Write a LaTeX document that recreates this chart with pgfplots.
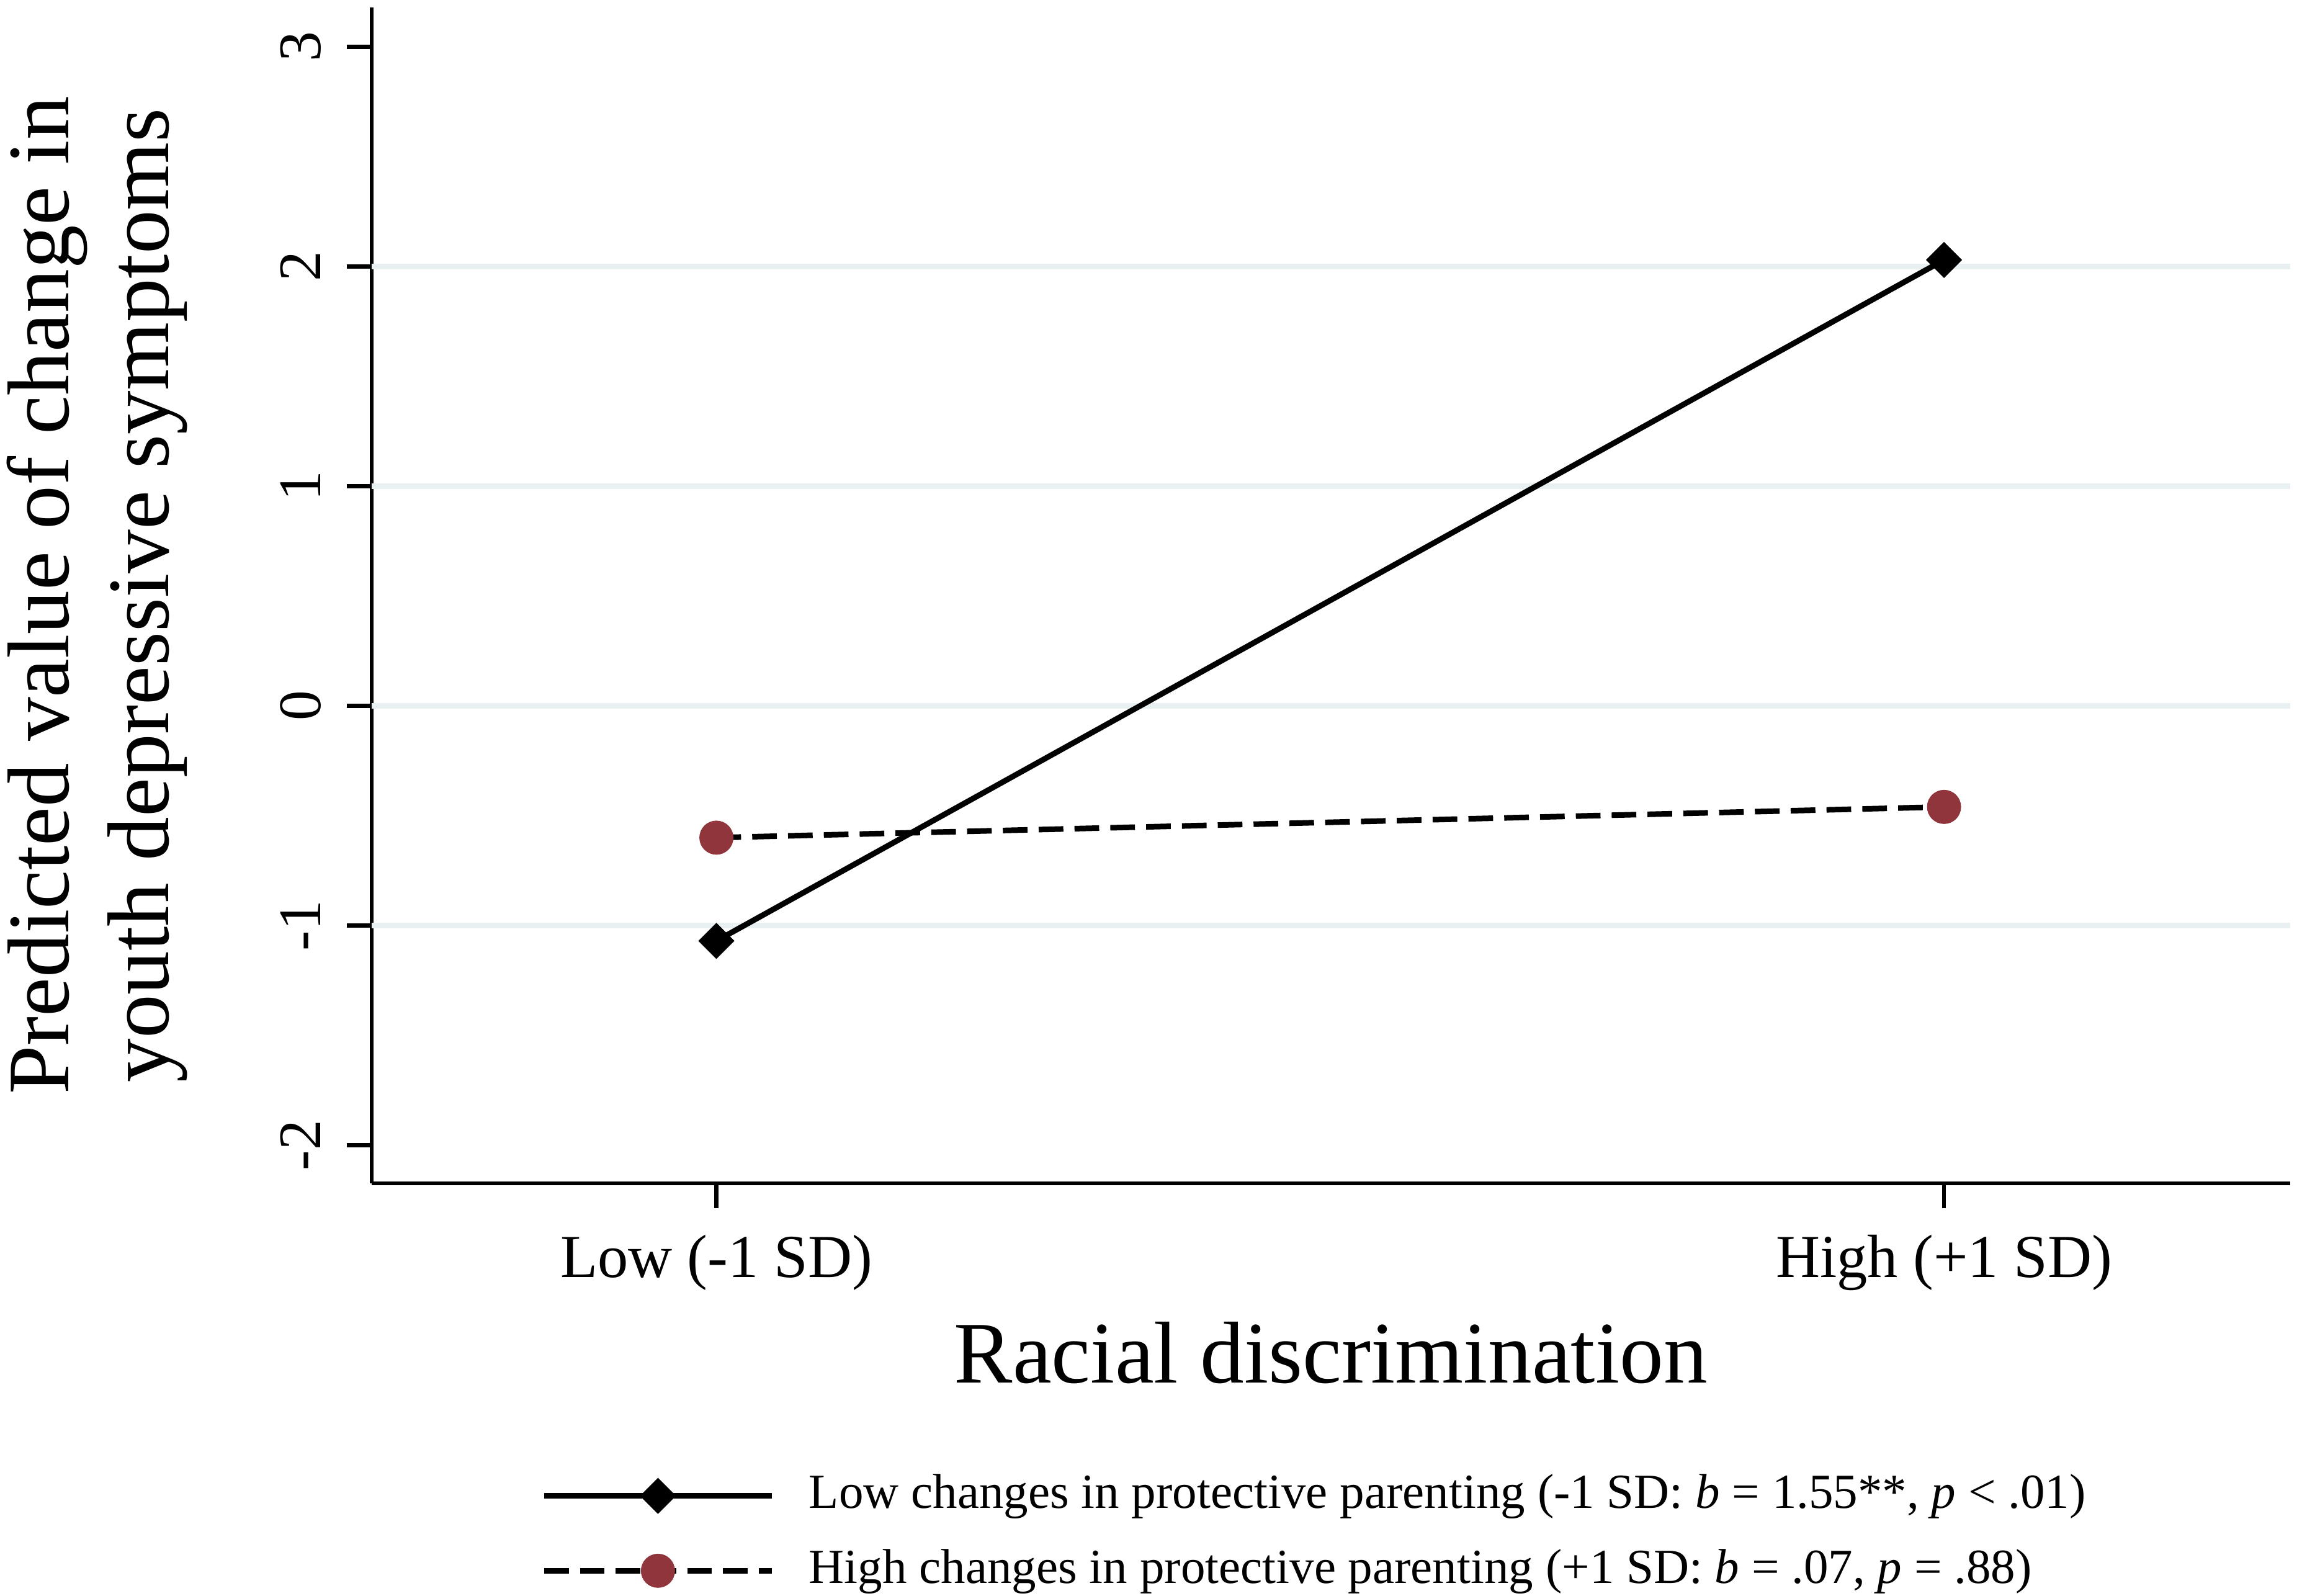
\documentclass[border=0pt]{standalone}
\usepackage{pgfplots}
\pgfplotsset{compat=1.18}
\usepackage{fontspec}
\setmainfont{Liberation Serif}
\definecolor{cranberry}{RGB}{144,53,59}
\definecolor{gridc}{RGB}{232,240,241}
\begin{document}
\begin{tikzpicture}
\begin{axis}[
  scale only axis, width=326.75pt, height=200.25pt,
  xmin=-0.281, xmax=1.282, ymin=-2.174, ymax=3.18,
  axis x line*=bottom, axis y line*=left,
  axis line style={line width=0.65pt, -},
  tick align=outside, major tick length=4.2pt,
  tick style={line width=0.65pt, black},
  xtick={0,1}, xticklabels={Low (-1 SD), High (+1 SD)},
  ytick={-2,-1,0,1,2,3}, yticklabels={-2,-1,0,1,2,3},
  minor tick num=0,
  xticklabel style={font=\fontsize{10.4}{12}\selectfont, anchor=base, inner sep=0pt},
  yticklabel style={font=\fontsize{10.3}{12}\selectfont, rotate=90, anchor=base, inner sep=0pt},
  xticklabel shift=11.8pt, yticklabel shift=4.5pt,
  extra y ticks={-1,0,1,2}, extra y tick labels={},
  extra y tick style={grid=major, major tick length=0pt, major grid style={gridc, line width=0.9pt}},
  xlabel={Racial discrimination},
  every axis x label/.style={at={(rel axis cs:0.5,0)}, anchor=base, yshift=-34pt, inner sep=0pt, font=\fontsize{14.95}{17}\selectfont},
  ylabel={Predicted value of change in\\youth depressive symptoms},
  every axis y label/.style={at={(rel axis cs:-0.1431,0.5)}, rotate=90, anchor=center, align=center, inner sep=0pt, font=\fontsize{14.93}{17}\selectfont},
  legend cell align=left,
  legend image code/.code={\draw[mark repeat=2,mark phase=2,#1] plot coordinates {(0pt,0pt) (19.4pt,0pt) (38.75pt,0pt)};},
  legend style={draw=none, fill=none, inner sep=0pt, outer sep=0pt,
    at={(rel axis cs:0.0885,-0.2475)}, anchor=north west,
    row sep={12.75pt,between origins},
    nodes={inner sep=0pt, font=\fontsize{8.35}{10}\selectfont},
    /tikz/every odd column/.append style={column sep=5.9pt}},
]
\addplot[black, line width=0.95pt, mark=diamond*, mark size=3.0pt,
  mark options={solid, fill=black, xscale=1.333, line width=0.1pt}]
  coordinates {(0,-1.07) (1,2.03)};
\addlegendentry{Low changes in protective parenting (-1 SD: \textit{b} = 1.55**, \textit{p} < .01)}
\addplot[black, line width=0.95pt, dash pattern=on 4.2pt off 1.9pt, mark=*, mark size=2.85pt,
  mark options={solid, draw=cranberry, fill=cranberry, line width=0.1pt}]
  coordinates {(0,-0.60) (1,-0.46)};
\addlegendentry{High changes in protective parenting (+1 SD: \textit{b} = .07, \textit{p} = .88)}
\coordinate (ll) at (rel axis cs:0,0);
\coordinate (ur) at (rel axis cs:1,1);
\end{axis}
\pgfresetboundingbox
\path ([shift={(-63.25pt,-70.25pt)}]ll) rectangle ([shift={(2pt,1.25pt)}]ur);
\end{tikzpicture}
\end{document}
